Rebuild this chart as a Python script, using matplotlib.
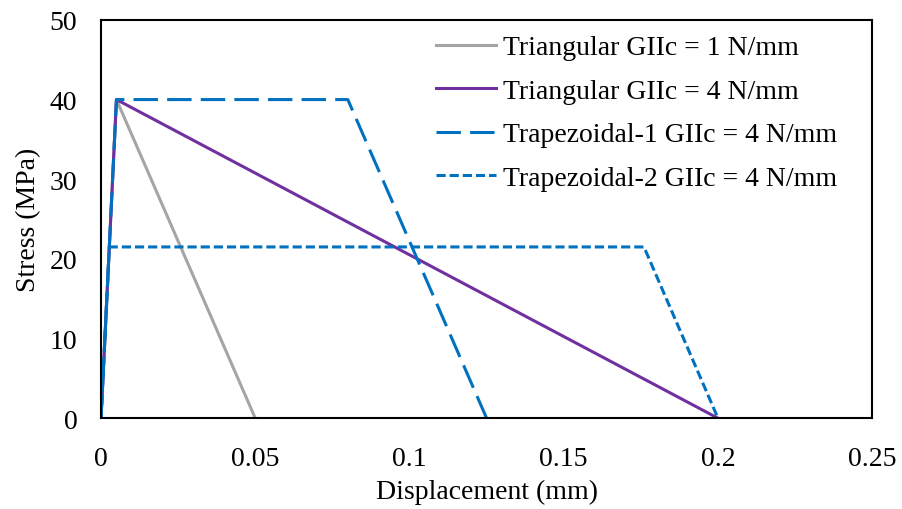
import matplotlib
matplotlib.use("Agg")
import matplotlib.pyplot as plt

plt.rcParams['font.family'] = ['Liberation Serif', 'DejaVu Serif']

# cohesive laws: displacement (mm) vs stress (MPa)
tri1_x = [0, 0.005, 0.05]
tri1_y = [0, 40, 0]

tri4_x = [0, 0.005, 0.2]
tri4_y = [0, 40, 0]

trap1_x = [0, 0.005, 0.08, 0.125]
trap1_y = [0, 40, 40, 0]

trap2_x = [0, 0.0027, 0.176, 0.2]
trap2_y = [0, 21.5, 21.5, 0]

labels = ["Triangular GIIc = 1 N/mm",
          "Triangular GIIc = 4 N/mm",
          "Trapezoidal-1 GIIc = 4 N/mm",
          "Trapezoidal-2 GIIc = 4 N/mm"]

fig = plt.figure(figsize=(9.02, 5.10), dpi=100)
ax = fig.add_axes([0.112, 0.178, 0.855, 0.781])

lw = 2.2
ax.plot(tri1_x, tri1_y, color="#A5A5A5", lw=lw, label=labels[0])
ax.plot(tri4_x, tri4_y, color="#7030A0", lw=lw, label=labels[1])
ax.plot(trap1_x, trap1_y, color="#0070C0", lw=lw, dashes=(8, 3), label=labels[2])
ax.plot(trap2_x, trap2_y, color="#0070C0", lw=lw, dashes=(3, 1.3), label=labels[3])

ax.set_xlim(0, 0.25)
ax.set_ylim(0, 50)
ax.set_xticks([0, 0.05, 0.1, 0.15, 0.2, 0.25])
ax.set_xticklabels(["0", "0.05", "0.1", "0.15", "0.2", "0.25"])
ax.set_yticks([0, 10, 20, 30, 40, 50])
ax.tick_params(length=0, labelsize=20)
ax.tick_params(axis="x", pad=20)
ax.tick_params(axis="y", pad=17)
for s in ax.spines.values():
    s.set_linewidth(1.5)

ax.set_xlabel("Displacement (mm)", fontsize=20, labelpad=6)
ax.set_ylabel("Stress (MPa)", fontsize=20, labelpad=6)

ax.legend(loc="upper right", bbox_to_anchor=(0.969, 0.99), frameon=False,
          fontsize=20, handlelength=2.15, handletextpad=0.25,
          labelspacing=0.65, borderaxespad=0)

fig.savefig("out.png", dpi=100)
